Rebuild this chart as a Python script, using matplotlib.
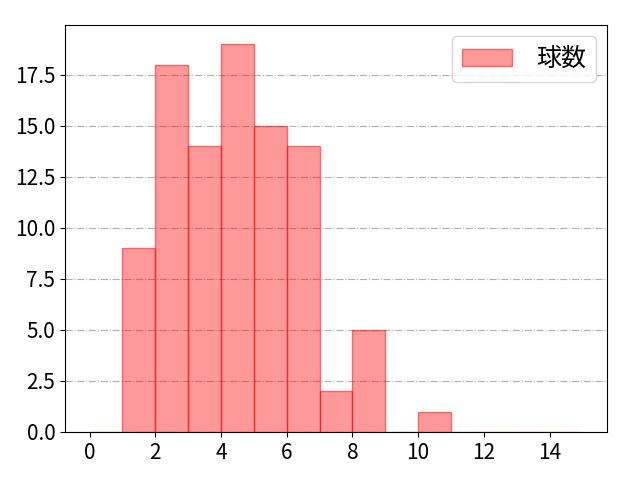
import matplotlib
matplotlib.use("Agg")
import matplotlib.pyplot as plt
from matplotlib.ticker import MultipleLocator
import numpy as np

plt.rcParams['font.family'] = ['Noto Sans CJK JP', 'DejaVu Sans']

bin_edges = list(range(0, 16))
counts = [0, 9, 18, 14, 19, 15, 14, 2, 5, 0, 1, 0, 0, 0, 0]
label = "球数"

fig, ax = plt.subplots(figsize=(6.4, 4.8), dpi=100)
fig.subplots_adjust(left=65/640, right=607/640, top=1-25/480, bottom=1-432/480)
ax.hist(bin_edges[:-1], bins=bin_edges, weights=counts, color=(1, 0, 0, 0.4),
        edgecolor=(1, 0, 0, 0.5), linewidth=1, label=label)
ax.grid(axis='y', linestyle='-.', color='#b0b0b0', linewidth=0.8)
ax.set_axisbelow(True)
ax.xaxis.set_major_locator(MultipleLocator(2))
ax.yaxis.set_major_locator(MultipleLocator(2.5))
ax.tick_params(labelsize=15)
ax.legend(fontsize=18, loc='upper right', handletextpad=0.95, borderaxespad=0.45)
fig.savefig("out.png")
